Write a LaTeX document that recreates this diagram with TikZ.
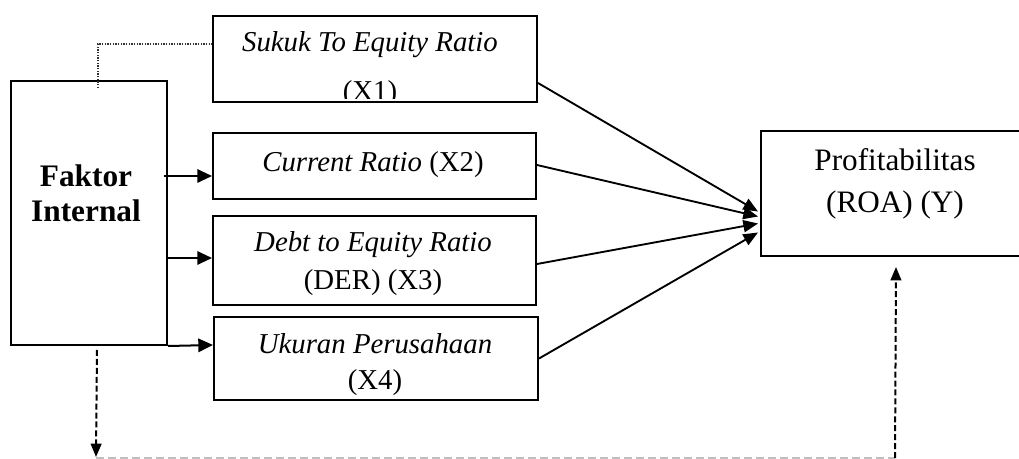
\documentclass[tikz,border=0pt]{standalone}
\usepackage{fontspec}
\setmainfont{Liberation Serif}
\usetikzlibrary{arrows.meta,calc}
\begin{document}
\begin{tikzpicture}[x=0.75pt,y=-0.75pt,
  box/.style={draw,line width=1.5pt,rectangle,inner sep=0pt,anchor=north west},
  txt/.style={anchor=base,inner sep=0pt,font=\fontsize{21.6}{26}\selectfont},
  arr/.style={line width=1.4pt,-{Triangle[length=11pt,width=9pt]}},
  harr/.style={line width=1.5pt,-{Triangle[length=11pt,width=10pt]}},
  dasharr/.style={line width=1.5pt,dash pattern=on 4.5pt off 2.2pt,-{Triangle[length=10pt,width=8pt]}},
  grayline/.style={line width=0.8pt,draw=black!25,dash pattern=on 6pt off 3pt},
  dots/.style={line width=1.4pt,draw=black!80,dash pattern=on 1pt off 1pt}]
\useasboundingbox (0,0) rectangle (1019,459);
\clip (0,0) rectangle (1019,459);
% boxes
\node[box,minimum width=156*0.75pt,minimum height=264*0.75pt] (fi) at (10,80) {};
\node[box,minimum width=324*0.75pt,minimum height=86*0.75pt] (x1) at (212,15) {};
\node[box,minimum width=323*0.75pt,minimum height=66*0.75pt] (x2) at (212,132) {};
\node[box,minimum width=323*0.75pt,minimum height=89*0.75pt] (x3) at (212,215) {};
\node[box,minimum width=324*0.75pt,minimum height=83*0.75pt] (x4) at (213,316) {};
\node[box,minimum width=270*0.75pt,minimum height=125*0.75pt] (p) at (760,130) {};
% texts
\node[txt,font=\fontsize{23.5}{28}\selectfont\bfseries] (fi1) at (86,187) {Faktor};
\node[txt,font=\fontsize{23.5}{28}\selectfont\bfseries] (fi2) at (86,222) {Internal};
\node[txt] (x1a) at (370,52) {\textit{Sukuk To Equity Ratio}};
\begin{scope}
\clip (213,16) rectangle (535,99);
\node[txt] (x1b) at (370,101) {(X1)};
\end{scope}
\node[txt] (x2a) at (373,172) {\textit{Current Ratio} (X2)};
\node[txt] (x3a) at (373,252) {\textit{Debt to Equity Ratio}};
\node[txt] (x3b) at (373,289) {(DER) (X3)};
\node[txt] (x4a) at (375,353) {\textit{Ukuran Perusahaan}};
\node[txt] (x4b) at (375,389) {(X4)};
\node[txt,font=\fontsize{23.4}{28}\selectfont] (pa) at (895,171) {Profitabilitas};
\node[txt,font=\fontsize{23.4}{28}\selectfont] (pb) at (895,213) {(ROA) (Y)};
% converging arrows
\draw[arr] ($(x1.east)+(0,24)$) -- ($(p.west)+(-2,18)$);
\draw[arr] ($(x2.east)+(0,-1)$) -- ($(p.west)+(-2,23)$);
\draw[arr] ($(x3.east)+(0,3.5)$) -- ($(p.west)+(-2,30)$);
\draw[arr] (x4.east) -- ($(p.west)+(-2,39)$);
% horizontal arrows from Faktor Internal
\draw[harr] ($(fi.east)+(-4,-37)$) -- ($(x2.west)+(0,10)$);
\draw[harr] ($(fi.east)+(-2,45)$) -- ($(x3.west)+(0,-2.5)$);
\draw[harr] (fi.south east) -- ($(x4.west)+(0,-13.5)$);
% dotted connector
\draw[dots] ($(fi.north)+(9,8)$) |- ($(x1.west)+(0,-15)$);
% dashed loop
\coordinate (c1) at (96,457);
\coordinate (c2) at (895,458);
\draw[dasharr] ($(fi.south)+(8,4)$) -- (c1);
\draw[grayline] (c1 |- c2) -- (c2);
\draw[dasharr] (c2) -- ($(p.south)+(0,10)$);
\end{tikzpicture}
\end{document}
